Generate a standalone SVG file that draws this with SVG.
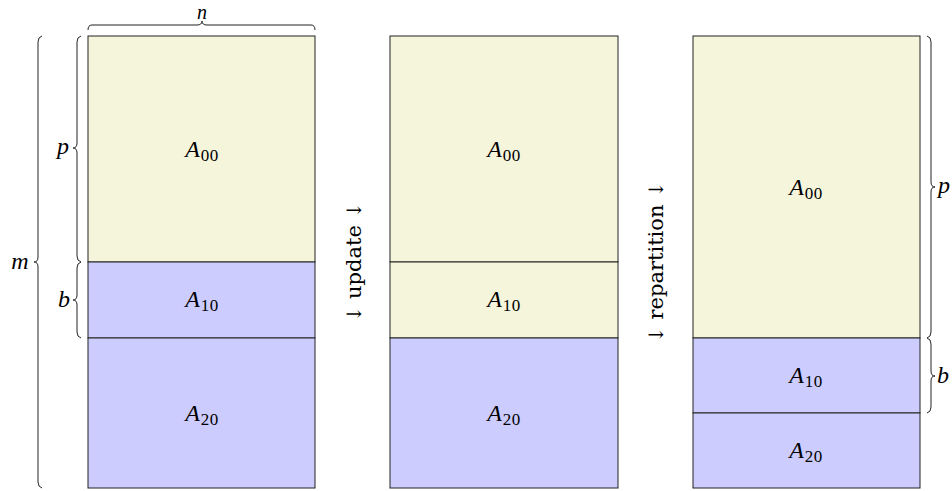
<svg xmlns="http://www.w3.org/2000/svg" width="952" height="491" viewBox="0 0 952 491">
<style>
.y{fill:#F5F5DC;stroke:#222;stroke-width:1}
.b{fill:#CCCCFF;stroke:#222;stroke-width:1}
.br{fill:none;stroke:#222;stroke-width:1}
.t{font-family:"Liberation Serif",serif;font-size:24px;fill:#000}
.m{font-style:italic}
.s{font-size:17px;letter-spacing:0.5px}
.r{font-family:"DejaVu Serif",serif;font-size:21px}
.ar{font-family:"DejaVu Serif",serif;font-size:20px}
</style>
<rect width="952" height="491" fill="#fff"/>
<g id="col1">
<g id="c1a00"><rect class="y" x="88" y="36" width="227" height="226"/><text class="t" x="202" y="157" text-anchor="middle"><tspan class="m">A</tspan><tspan class="s" dx="1" dy="4">00</tspan></text></g>
<g id="c1a10"><rect class="b" x="88" y="262" width="227" height="76"/><text class="t" x="202" y="307" text-anchor="middle"><tspan class="m">A</tspan><tspan class="s" dx="1" dy="4">10</tspan></text></g>
<g id="c1a20"><rect class="b" x="88" y="338" width="227" height="150"/><text class="t" x="202" y="421" text-anchor="middle"><tspan class="m">A</tspan><tspan class="s" dx="1" dy="4">20</tspan></text></g>
</g>
<g id="col2">
<g id="c2a00"><rect class="y" x="390" y="36" width="228" height="226"/><text class="t" x="504" y="157" text-anchor="middle"><tspan class="m">A</tspan><tspan class="s" dx="1" dy="4">00</tspan></text></g>
<g id="c2a10"><rect class="y" x="390" y="262" width="228" height="76"/><text class="t" x="504" y="307" text-anchor="middle"><tspan class="m">A</tspan><tspan class="s" dx="1" dy="4">10</tspan></text></g>
<g id="c2a20"><rect class="b" x="390" y="338" width="228" height="150"/><text class="t" x="504" y="421" text-anchor="middle"><tspan class="m">A</tspan><tspan class="s" dx="1" dy="4">20</tspan></text></g>
</g>
<g id="col3">
<g id="c3a00"><rect class="y" x="693" y="36" width="227" height="302"/><text class="t" x="806" y="195" text-anchor="middle"><tspan class="m">A</tspan><tspan class="s" dx="1" dy="4">00</tspan></text></g>
<g id="c3a10"><rect class="b" x="693" y="338" width="227" height="75"/><text class="t" x="806" y="383" text-anchor="middle"><tspan class="m">A</tspan><tspan class="s" dx="1" dy="4">10</tspan></text></g>
<g id="c3a20"><rect class="b" x="693" y="413" width="227" height="75"/><text class="t" x="806" y="458" text-anchor="middle"><tspan class="m">A</tspan><tspan class="s" dx="1" dy="4">20</tspan></text></g>
</g>
<g id="braces">
<path class="br" d="M88,30 Q88,25 92,25 L197,25 Q202,25 202,21 Q202,25 207,25 L311,25 Q315,25 315,30"/>
<text class="t m" x="202" y="19" text-anchor="middle" style="font-size:20px">n</text>
<path class="br" d="M42,36 Q38,37 38,42 L38,257 Q38,262 34,262 Q38,262 38,267 L38,482 Q38,487 42,488"/>
<text class="t m" x="20" y="269" text-anchor="middle">m</text>
<path class="br" d="M81,36 Q77,37 77,42 L77,143 Q77,148 73,148 Q77,148 77,153 L77,256 Q77,261 81,262"/>
<text class="t m" x="63" y="154" text-anchor="middle">p</text>
<path class="br" d="M81,262 Q77,263 77,268 L77,295 Q77,300 73,300 Q77,300 77,305 L77,332 Q77,337 81,338"/>
<text class="t m" x="64" y="307" text-anchor="middle">b</text>
<path class="br" d="M927,36 Q931,37 931,42 L931,182 Q931,187 935,187 Q931,187 931,192 L931,332 Q931,337 927,338"/>
<text class="t m" x="944" y="193" text-anchor="middle">p</text>
<path class="br" d="M927,338 Q931,339 931,344 L931,371 Q931,376 935,376 Q931,376 931,381 L931,407 Q931,412 927,413"/>
<text class="t m" x="943" y="383" text-anchor="middle">b</text>
</g>
<g id="labels">
<text class="r" transform="translate(361,262) rotate(-90)" text-anchor="middle"><tspan class="ar">↓</tspan> update <tspan class="ar">↓</tspan></text>
<text class="r" transform="translate(663,262) rotate(-90)" text-anchor="middle"><tspan class="ar">↓</tspan> repartition <tspan class="ar">↓</tspan></text>
</g>
</svg>
